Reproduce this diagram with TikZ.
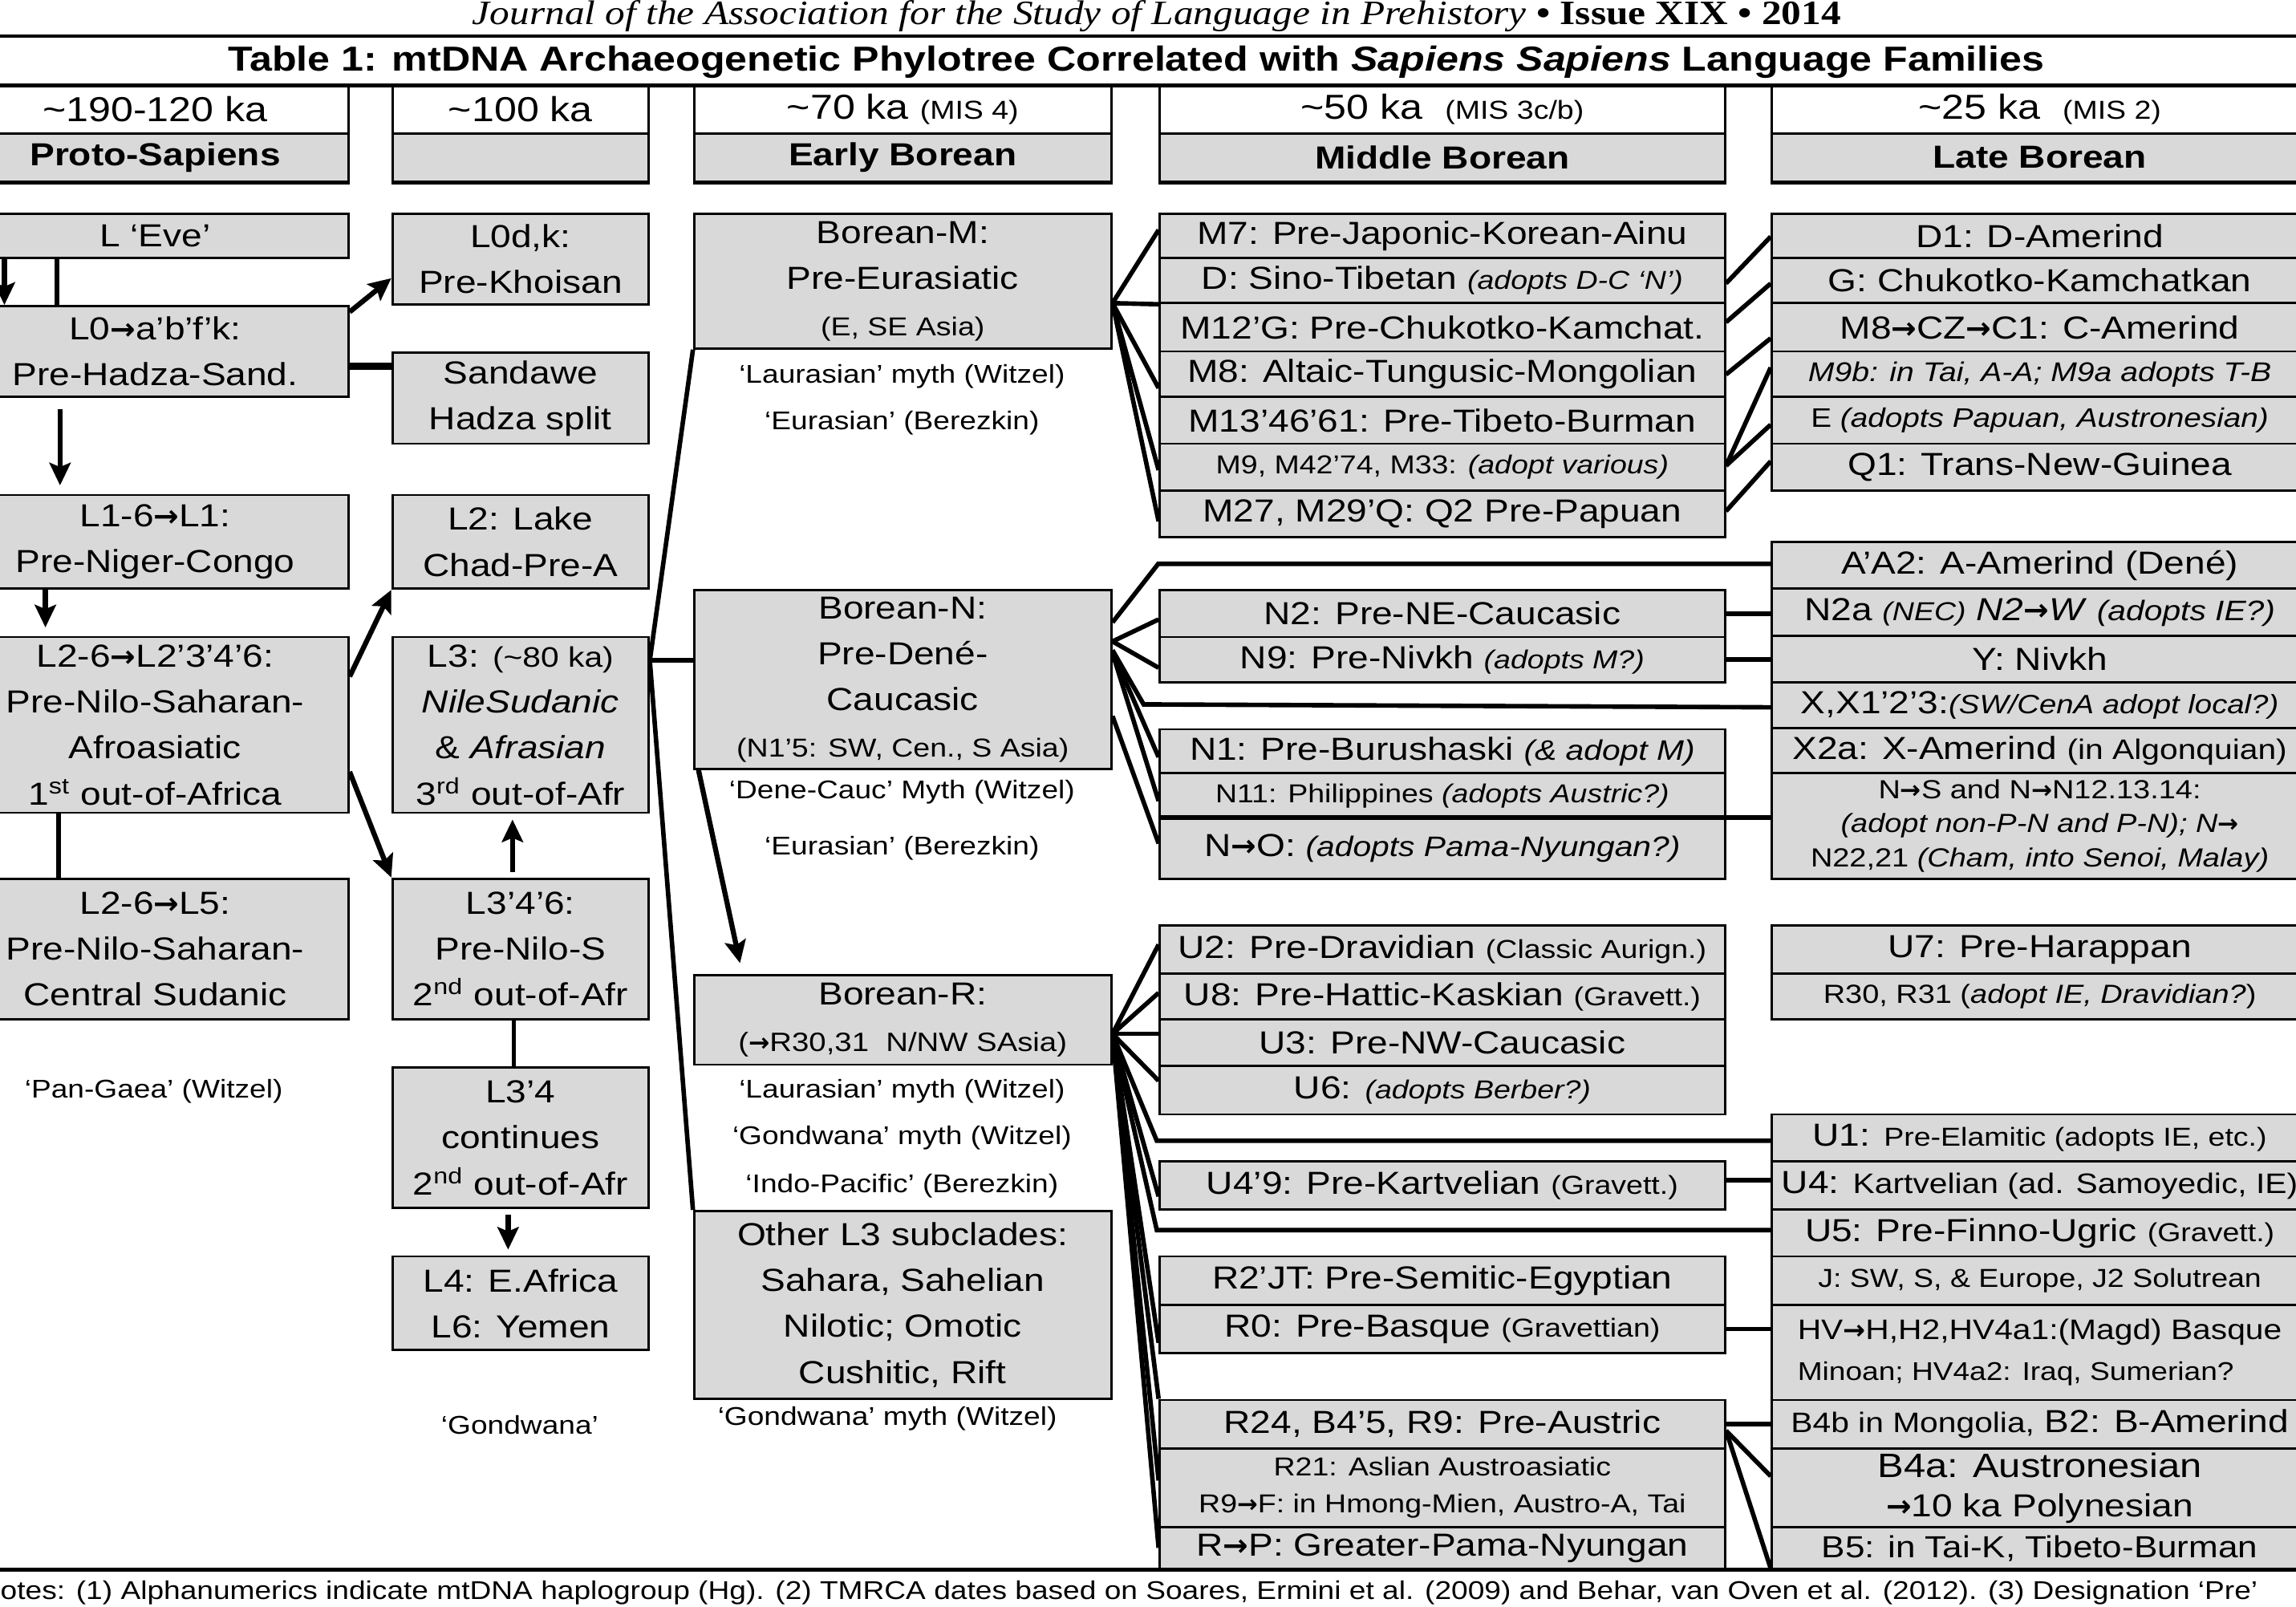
\documentclass[tikz,border=0pt]{standalone}
\usepackage{fontspec}
\setmainfont{Liberation Sans}[FakeStretch=1.16]
\newfontfamily\journalfont{Liberation Serif}[FakeStretch=1.16]
\newfontfamily\arrowfont{DejaVu Sans}[Scale=0.95]
\usetikzlibrary{arrows.meta}

\definecolor{cellgray}{RGB}{217,217,217}
\newcommand{\pxu}{0.018253cm}
\newcommand{\fmain}{\fontsize{11.3}{16.3}\selectfont}
\newcommand{\fsmall}{\fontsize{9.2}{11}\selectfont}
\newcommand{\fmid}{\fontsize{10}{12.2}\selectfont}
\newcommand{\toarr}{{\arrowfont\bfseries\upshape →}}

\tikzset{
  cell/.style={draw=black, line width=0.8pt, fill=cellgray, inner sep=0pt, align=center, font=\fmain},
  colA/.style={cell, minimum width=264*\pxu},
  colB/.style={cell, minimum width=175*\pxu},
  colC/.style={cell, minimum width=285*\pxu},
  colD/.style={cell, minimum width=386*\pxu},
  colE/.style={cell, minimum width=366*\pxu},
  timecell/.style={fill=white, font=\fontsize{12.3}{14}\selectfont},
  namecell/.style={font=\bfseries\fontsize{11.3}{14}\selectfont},
  lbl/.style={inner sep=0pt, font=\fontsize{9.1}{11}\selectfont},
  rule/.style={line width=1.3pt},
  lnk/.style={draw, line width=1.6pt},
  arw/.style={draw, line width=1.8pt, -{Stealth[length=8pt,width=7.5pt,inset=1.5pt]}},
}

\begin{document}
\begin{tikzpicture}[x=0.018253cm, y=-0.018253cm]
\useasboundingbox (0,0) rectangle (1568,1097);

% Heading
\node[anchor=base, inner sep=0pt, font={\journalfont\fontsize{12.1}{14}\selectfont}] (journal) at (790,16.8)
  {\itshape Journal of the Association for the Study of Language in Prehistory \upshape\bfseries • Issue XIX • 2014};
\draw[rule] (0,24.7) -- (1568,24.7);
\node[inner sep=0pt, font=\bfseries\fontsize{12.3}{14}\selectfont] (title) at (776,42.5)
  {Table 1: mtDNA Archaeogenetic Phylotree Correlated with \textit{Sapiens Sapiens} Language Families};

% Column heads
\node[colA, timecell, minimum height=32.5*\pxu] (timeA) at (106,74.75) {\textasciitilde190-120 ka};
\node[colB, timecell, minimum height=32.5*\pxu] (timeB) at (355.5,74.75) {\textasciitilde100 ka};
\node[colC, timecell, minimum height=32.5*\pxu] (timeC) at (616.5,74.75) {\textasciitilde70 ka {\fsmall (MIS 4)}};
\node[colD, timecell, minimum height=32.5*\pxu] (timeD) at (985,74.75) {\textasciitilde50 ka\ \ {\fsmall (MIS 3c/b)}};
\node[colE, timecell, minimum height=32.5*\pxu] (timeE) at (1393,74.75) {\textasciitilde25 ka\ \ {\fsmall (MIS 2)}};
\node[colA, namecell, minimum height=33*\pxu] (nameA) at (106,107.5) {Proto-Sapiens};
\node[colB, namecell, minimum height=33*\pxu] (nameB) at (355.5,107.5) {};
\node[colC, namecell, minimum height=33*\pxu] (nameC) at (616.5,107.5) {Early Borean};
\node[colD, namecell, minimum height=33*\pxu] (nameD) at (985,107.5) {Middle Borean};
\node[colE, namecell, minimum height=33*\pxu] (nameE) at (1393,107.5) {Late Borean};
\draw[rule] (0,58.5) -- (1568,58.5);
\foreach \n in {nameA,nameB,nameC,nameD,nameE}
  \draw[rule] (\n.south west) -- (\n.south east);

% Column A: Proto-Sapiens
\node[colA, minimum height=30*\pxu] (eve) at (106,161) {L ‘Eve’};
\node[colA, minimum height=62*\pxu] (lzero) at (106,240) {L0\toarr a’b’f’k:\\Pre-Hadza-Sand.};
\node[colA, minimum height=64*\pxu] (lone) at (106,370) {L1-6\toarr L1:\\Pre-Niger-Congo};
\node[colA, minimum height=120*\pxu] (ltwo) at (106,495) {L2-6\toarr L2’3’4’6:\\Pre-Nilo-Saharan-\\Afroasiatic\\1\textsuperscript{st} out-of-Africa};
\node[colA, minimum height=96*\pxu] (lfive) at (106,648) {L2-6\toarr L5:\\Pre-Nilo-Saharan-\\Central Sudanic};
\node[lbl] (pangaea) at (105,745) {‘Pan-Gaea’ (Witzel)};

% Column B: ~100 ka
\node[colB, minimum height=62*\pxu] (lzerodk) at (355.5,177) {L0d,k:\\Pre-Khoisan};
\node[colB, minimum height=62*\pxu] (sandawe) at (355.5,272) {Sandawe\\Hadza split};
\node[colB, minimum height=64*\pxu] (lake) at (355.5,370) {L2: Lake\\Chad-Pre-A};
\node[colB, minimum height=120*\pxu] (lthree) at (355.5,495) {L3: {\fmid (\textasciitilde80 ka)}\\\textit{NileSudanic}\\\& \textit{Afrasian}\\3\textsuperscript{rd} out-of-Afr};
\node[colB, minimum height=96*\pxu] (lthreefoursix) at (355.5,648) {L3’4’6:\\Pre-Nilo-S\\2\textsuperscript{nd} out-of-Afr};
\node[colB, minimum height=96*\pxu] (lthreefour) at (355.5,777) {L3’4\\continues\\2\textsuperscript{nd} out-of-Afr};
\node[colB, minimum height=64*\pxu] (lfoursix) at (355.5,890) {L4: E.Africa\\L6: Yemen};
\node[lbl] (gondwanaB) at (355,973) {‘Gondwana’};

% Column C: Early Borean
\node[colC, minimum height=92*\pxu] (boreanM) at (616.5,192) {Borean-M:\\Pre-Eurasiatic\\{\fsmall (E, SE Asia)}};
\node[lbl] (laurM) at (616,257) {‘Laurasian’ myth (Witzel)};
\node[lbl] (eurM) at (616,289) {‘Eurasian’ (Berezkin)};
\node[colC, minimum height=122*\pxu] (boreanN) at (616.5,464) {Borean-N:\\Pre-Dené-\\Caucasic\\{\fsmall (N1’5: SW, Cen., S Asia)}};
\node[lbl] (denecauc) at (616,541) {‘Dene-Cauc’ Myth (Witzel)};
\node[lbl] (eurN) at (616,579) {‘Eurasian’ (Berezkin)};
\node[colC, minimum height=61*\pxu] (boreanR) at (616.5,696.5) {Borean-R:\\{\fontsize{9.4}{11}\selectfont (\toarr R30,31\ \ N/NW SAsia)}};
\node[lbl] (laurR) at (616,745) {‘Laurasian’ myth (Witzel)};
\node[lbl] (gondR) at (616,777) {‘Gondwana’ myth (Witzel)};
\node[lbl] (indopac) at (616,810) {‘Indo-Pacific’ (Berezkin)};
\node[colC, minimum height=128*\pxu] (otherL) at (616.5,891) {Other L3 subclades:\\Sahara, Sahelian\\Nilotic; Omotic\\Cushitic, Rift};
\node[lbl] (gondO) at (606,969) {‘Gondwana’ myth (Witzel)};

% Column D: Middle Borean
\node[colD, minimum height=30*\pxu] (msev) at (985,161) {M7: Pre-Japonic-Korean-Ainu};
\node[colD, minimum height=31*\pxu] (dsino) at (985,191.5) {D: Sino-Tibetan {\fsmall\itshape (adopts D-C ‘N’)}};
\node[colD, minimum height=33*\pxu] (mtwelve) at (985,223.5) {M12’G: Pre-Chukotko-Kamchat.};
\node[colD, minimum height=31*\pxu] (meight) at (985,255.5) {M8: Altaic-Tungusic-Mongolian};
\node[colD, minimum height=32*\pxu] (mthirteen) at (985,287) {M13’46’61: Pre-Tibeto-Burman};
\node[colD, minimum height=32*\pxu, font=\fsmall] (mnine) at (985,319) {M9, M42’74, M33: \textit{(adopt various)}};
\node[colD, minimum height=32*\pxu] (mtwentyseven) at (985,351) {M27, M29’Q: Q2 Pre-Papuan};

\node[colD, minimum height=32*\pxu] (ntwo) at (985,419) {N2: Pre-NE-Caucasic};
\node[colD, minimum height=31*\pxu] (nnine) at (985,450.5) {N9: Pre-Nivkh {\fsmall\itshape (adopts M?)}};
\node[colD, minimum height=30*\pxu] (none) at (985,513) {N1: Pre-Burushaski {\fmid\itshape (\& adopt M)}};
\node[colD, minimum height=31*\pxu, font=\fsmall] (neleven) at (985,543.5) {N11: Philippines \textit{(adopts Austric?)}};
\node[colD, minimum height=41*\pxu] (nzero) at (985,579.5) {N\toarr O: {\fmid\itshape (adopts Pama-Nyungan?)}};

\node[colD, minimum height=33*\pxu] (utwo) at (985,648.5) {U2: Pre-Dravidian {\fsmall (Classic Aurign.)}};
\node[colD, minimum height=31*\pxu] (ueight) at (985,680.5) {U8: Pre-Hattic-Kaskian {\fsmall (Gravett.)}};
\node[colD, minimum height=32*\pxu] (uthree) at (985,712) {U3: Pre-NW-Caucasic};
\node[colD, minimum height=33*\pxu] (usix) at (985,744.5) {U6: {\fsmall\itshape (adopts Berber?)}};
\node[colD, minimum height=33*\pxu] (ufournine) at (985,809.5) {U4’9: Pre-Kartvelian {\fsmall (Gravett.)}};

\node[colD, minimum height=33*\pxu] (rtwo) at (985,874.5) {R2’JT: Pre-Semitic-Egyptian};
\node[colD, minimum height=33*\pxu] (rzero) at (985,907.5) {R0: Pre-Basque {\fsmall (Gravettian)}};
\node[colD, minimum height=33*\pxu] (rtwentyfour) at (985,972.5) {R24, B4’5, R9: Pre-Austric};
\node[colD, minimum height=54*\pxu, font=\fsmall] (rtwentyone) at (985,1016) {R21: Aslian Austroasiatic\\[2pt]R9\toarr F: in Hmong-Mien, Austro-A, Tai};
\node[colD, minimum height=29*\pxu] (rtop) at (985,1057.5) {R\toarr P: Greater-Pama-Nyungan};

% Column E: Late Borean
\node[colE, minimum height=30*\pxu] (done) at (1393,161) {D1: D-Amerind};
\node[colE, minimum height=31*\pxu] (gchuk) at (1393,191.5) {G: Chukotko-Kamchatkan};
\node[colE, minimum height=33*\pxu] (czamer) at (1393,223.5) {M8\toarr CZ\toarr C1: C-Amerind};
\node[colE, minimum height=31*\pxu, font=\fontsize{9.6}{12}\selectfont\itshape] (mnineb) at (1393,255.5) {M9b: in Tai, A-A; M9a adopts T-B};
\node[colE, minimum height=32*\pxu, font=\fontsize{9.5}{12}\selectfont] (eadopt) at (1393,287) {E \textit{(adopts Papuan, Austronesian)}};
\node[colE, minimum height=32*\pxu] (qone) at (1393,319) {Q1: Trans-New-Guinea};

\node[colE, minimum height=32*\pxu] (aamer) at (1393,386) {A’A2: A-Amerind (Dené)};
\node[colE, minimum height=32*\pxu] (ntwoa) at (1393,418) {N2a {\fsmall\itshape (NEC)} \textit{N2\toarr W} {\fmid\itshape (adopts IE?)}};
\node[colE, minimum height=32*\pxu] (ynivkh) at (1393,450) {Y: Nivkh};
\node[colE, minimum height=31*\pxu] (xone) at (1393,481.5) {X,X1’2’3:{\fontsize{9.4}{12}\selectfont\itshape (SW/CenA adopt local?)}};
\node[colE, minimum height=31*\pxu] (xtwoa) at (1393,512.5) {X2a: X-Amerind {\fmid (in Algonquian)}};
\node[colE, minimum height=72*\pxu, font=\fontsize{9.3}{12.2}\selectfont] (nsouth) at (1393,564) {N\toarr S and N\toarr N12.13.14:\\\textit{(adopt non-P-N and P-N); N\toarr}\\N22,21 \textit{(Cham, into Senoi, Malay)}};

\node[colE, minimum height=33*\pxu] (useven) at (1393,648.5) {U7: Pre-Harappan};
\node[colE, minimum height=31*\pxu, font=\fontsize{9.3}{12}\selectfont] (rthirty) at (1393,680.5) {R30, R31 (\textit{adopt IE, Dravidian?})};
\node[colE, minimum height=32*\pxu] (uone) at (1393,777) {U1: {\fsmall Pre-Elamitic (adopts IE, etc.)}};
\node[colE, minimum height=33*\pxu] (ufour) at (1393,809.5) {U4: {\fmid Kartvelian (ad. Samoyedic, IE)}};
\node[colE, minimum height=32*\pxu] (ufive) at (1393,842) {U5: Pre-Finno-Ugric {\fsmall (Gravett.)}};
\node[colE, minimum height=33*\pxu, font=\fontsize{9.2}{12}\selectfont] (jsw) at (1393,874.5) {J: SW, S, \& Europe, J2 Solutrean};
\node[colE, minimum height=65*\pxu, align=left, font=\fontsize{10}{14.5}\selectfont] (hv) at (1393,923.5) {HV\toarr H,H2,HV4a1:(Magd) Basque\\{\fontsize{9.1}{14.5}\selectfont Minoan; HV4a2: Iraq, Sumerian?}};
\node[colE, minimum height=33*\pxu] (bfourb) at (1393,972.5) {{\fmid B4b in Mongolia,} B2: B-Amerind};
\node[colE, minimum height=54*\pxu, font=\fontsize{12}{14}\selectfont] (bfoura) at (1393,1016) {B4a: Austronesian\\{\fmain \toarr 10 ka Polynesian}};
\node[colE, minimum height=29*\pxu, font=\fontsize{10.8}{13}\selectfont] (bfive) at (1393,1057.5) {B5: in Tai-K, Tibeto-Burman};

% Junctions
\coordinate (jL) at (lthree.east |- 0,451);
\coordinate (jM) at (boreanM.east |- 0,207);
\coordinate (jN) at (boreanN.east |- 0,438);
\coordinate (jR) at (boreanR.east |- 0,706);
\coordinate (kA) at (791,385);
\coordinate (kX) at (781,481);
\coordinate (kU1) at (790,779);
\coordinate (kU5) at (790,840);

% Arrows, Africa
\draw[arw] (eve.south -| 3,0) -- (lzero.north -| 3,0);
\draw[lnk] (eve.south -| 39,0) -- (lzero.north -| 39,0);
\draw[arw, shorten <=4pt, shorten >=3pt] (lzero.south -| 41,0) -- (lone.north -| 41,0);
\draw[arw, shorten >=3pt] (lone.south -| 31,0) -- (ltwo.north -| 31,0);
\draw[lnk] (ltwo.south -| 40,0) -- (lfive.north -| 40,0);
\draw[arw] (lzero.east |- 0,213) -- (lzerodk.west |- 0,190);
\draw[lnk, line width=2.4pt] (lzero.east |- 0,250) -- (sandawe.west |- 0,250);
\draw[arw] (ltwo.east |- 0,462) -- (lake.south west);
\draw[arw] (ltwo.east |- 0,527) -- (lthreefoursix.north west);
\draw[arw, shorten <=2pt, shorten >=2pt] (lthreefoursix.north -| 350,0) -- (lthree.south -| 350,0);
\draw[lnk] (lthreefoursix.south -| 351,0) -- (lthreefour.north -| 351,0);
\draw[arw, shorten <=2pt, shorten >=2pt] (lthreefour.south -| 347,0) -- (lfoursix.north -| 347,0);

% Out of Africa into Borean
\draw[lnk] (jL) -- (boreanN.west |- jL);
\draw[lnk] (jL) -- (boreanM.south west);
\draw[lnk] (jL) -- (otherL.north west);
\draw[arw, shorten >=4pt] (boreanN.south -| 477,0) -- (boreanR.north -| 507,0);

% Borean-M fan
\draw[lnk] (jM) -- (msev.west |- 0,157);
\draw[lnk] (jM) -- (dsino.south west);
\draw[lnk] (jM) -- (meight.west |- 0,265);
\draw[lnk] (jM) -- (mnine.west |- 0,321);
\draw[lnk] (jM) -- (mtwentyseven.west |- 0,356);
\draw[lnk] (dsino.east |- 0,193.5) -- (done.west |- 0,161.6);
\draw[lnk] (mtwelve.east |- 0,220) -- (gchuk.west |- 0,193.6);
\draw[lnk] (meight.east |- 0,255.7) -- (czamer.west |- 0,231);
\draw[lnk] (mnine.east |- 0,318) -- (mnineb.west |- 0,251);
\draw[lnk] (mnine.east |- 0,318) -- (eadopt.west |- 0,290);
\draw[lnk] (mtwentyseven.east |- 0,349) -- (qone.west |- 0,315);

% Borean-N fan
\draw[lnk] (boreanN.east |- 0,425) -- (kA) -- (aamer.west |- kA);
\draw[lnk] (jN) -- (ntwo.west |- 0,423);
\draw[lnk] (jN) -- (nnine.west |- 0,456);
\draw[lnk] (boreanN.east |- 0,444) -- (kX) -- (xone.west |- 0,483);
\draw[lnk] (boreanN.east |- 0,445) -- (none.west |- 0,517);
\draw[lnk] (boreanN.east |- 0,446) -- (neleven.west |- 0,547);
\draw[lnk] (boreanN.east |- 0,489) -- (nzero.west |- 0,576);
\draw[lnk] (nzero.north west) -- (nsouth.west |- nzero.north west);
\draw[lnk] (ntwo.east) -- (ntwoa.west |- ntwo.east);
\draw[lnk] (nnine.east) -- (ynivkh.west |- nnine.east);

% Borean-R fan
\draw[lnk] (jR) -- (utwo.west |- 0,645);
\draw[lnk] (jR) -- (ueight.west |- 0,678);
\draw[lnk] (jR) -- (uthree.west |- jR);
\draw[lnk] (jR) -- (usix.west |- 0,738);
\draw[lnk] (jR) -- (kU1) -- (uone.west |- kU1);
\draw[lnk] (jR) -- (ufournine.west |- 0,817);
\draw[lnk] (jR) -- (kU5) -- (ufive.west |- kU5);
\draw[lnk] (jR) -- (rzero.west |- 0,917);
\draw[lnk] (jR) -- (rtwentyfour.north west);
\draw[lnk] (jR) -- (rtwentyone.west |- 0,1011);
\draw[lnk] (jR) -- (rtop.west |- 0,1057);
\draw[lnk] (ufournine.east |- 0,806) -- (ufour.west |- 0,806);
\draw[lnk] (rzero.east) -- (hv.west |- rzero.east);
\draw[lnk] (rtwentyfour.east) -- (bfourb.west |- rtwentyfour.east);
\draw[lnk] (rtwentyfour.east |- 0,977) -- (bfoura.west |- 0,1008);
\draw[lnk] (rtwentyfour.east |- 0,977) -- (bfive.west |- 0,1071);

% Foot
\draw[rule] (0,1072) -- (1568,1072);
\node[anchor=base west, inner sep=0pt, font=\fontsize{9.1}{11}\selectfont] (notes) at (0,1092)
  {otes: (1) Alphanumerics indicate mtDNA haplogroup (Hg). (2) TMRCA dates based on Soares, Ermini et al. (2009) and Behar, van Oven et al. (2012). (3) Designation ‘Pre’};

\end{tikzpicture}
\end{document}
